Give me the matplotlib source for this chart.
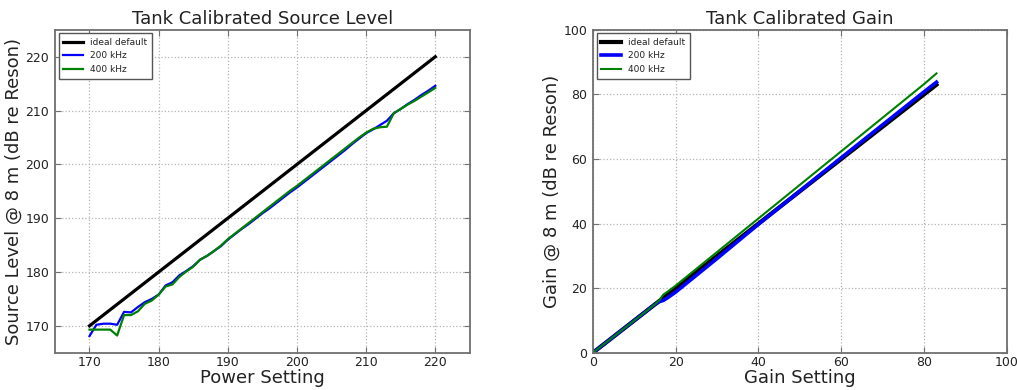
import matplotlib
matplotlib.use("Agg")
import matplotlib.pyplot as plt

# ---- Left: source level data ----
power_setting = list(range(170, 221))
ideal_sl = list(range(170, 221))
sl_200k = [168.1, 170.2, 170.4, 170.4, 170.2, 172.6, 172.5, 173.5, 174.4, 175.0,
           175.8, 177.5, 178.1, 179.4, 180.2, 181.1, 182.3, 183.0, 183.9, 184.8,
           186.0, 187.0, 188.0, 188.9, 189.9, 190.9, 191.8, 192.8, 193.8, 194.8,
           195.7, 196.7, 197.7, 198.7, 199.7, 200.7, 201.7, 202.7, 203.8, 204.8,
           205.8, 206.5, 207.3, 208.1, 209.5, 210.3, 211.2, 212.0, 212.9, 213.7,
           214.6]
sl_400k = [169.3, 169.3, 169.3, 169.3, 168.2, 172.0, 172.0, 172.7, 174.1, 174.7,
           175.8, 177.3, 177.7, 179.1, 180.1, 181.0, 182.3, 183.0, 183.9, 184.9,
           186.1, 187.1, 188.1, 189.1, 190.1, 191.1, 192.1, 193.1, 194.1, 195.1,
           196.0, 197.0, 198.0, 199.0, 200.0, 201.0, 202.0, 203.0, 204.0, 205.0,
           205.9, 206.6, 206.9, 207.0, 209.5, 210.3, 211.1, 211.8, 212.6, 213.4,
           214.2]

# ---- Right: gain data ----
gain_setting = [0, 5, 10, 15, 16, 17, 18, 20, 25, 30, 35, 40, 50, 60, 70, 80, 83]
ideal_gain = [0, 5, 10, 15, 16, 17, 18, 20, 25, 30, 35, 40, 50, 60, 70, 80, 83]
gain_200k = [0, 5, 10, 15, 15.8, 16.2, 17.0, 18.8, 24.0, 29.2, 34.5, 39.8, 50.1, 60.4, 70.6, 80.8, 83.8]
gain_400k = [0, 5, 10, 15, 16.2, 18.0, 18.9, 20.8, 26.0, 31.2, 36.4, 41.6, 52.0, 62.4, 72.8, 83.2, 86.5]

labels = ["ideal default", "200 kHz", "400 kHz"]

plt.rcParams['font.family'] = ['DejaVu Sans']
fig = plt.figure(figsize=(10.17, 3.90), dpi=100)
ax1 = fig.add_axes([0.054, 0.0955, 0.408, 0.828])
ax2 = fig.add_axes([0.583, 0.0955, 0.407, 0.828])

spine_col = '#707070'
text_col = '#222222'

def style(ax):
    for s in ax.spines.values():
        s.set_color(spine_col)
        s.set_linewidth(1.3)
    ax.tick_params(direction='in', top=True, right=True, length=4,
                   color=spine_col, labelsize=9, labelcolor=text_col, pad=2)
    ax.tick_params(axis='y', pad=4)
    ax.grid(True, linestyle=':', color='#b5b5b5', linewidth=0.9)
    ax.set_axisbelow(True)

ax1.plot(power_setting, ideal_sl, color='k', lw=2.3, label=labels[0])
ax1.plot(power_setting, sl_200k, color='b', lw=1.6, label=labels[1])
ax1.plot(power_setting, sl_400k, color='g', lw=1.6, label=labels[2])
ax1.set_xlim(165, 225)
ax1.set_ylim(165, 225)
ax1.set_xticks([170, 180, 190, 200, 210, 220])
ax1.set_yticks([170, 180, 190, 200, 210, 220])
ax1.set_title("Tank Calibrated Source Level", fontsize=13, color=text_col, pad=4)
ax1.set_xlabel("Power Setting", fontsize=13, color=text_col, labelpad=0)
ax1.set_ylabel("Source Level @ 8 m (dB re Reson)", fontsize=13, color=text_col, labelpad=2)
style(ax1)

ax2.plot(gain_setting, ideal_gain, color='k', lw=3, label=labels[0])
ax2.plot(gain_setting, gain_200k, color='b', lw=2.6, label=labels[1])
ax2.plot(gain_setting, gain_400k, color='g', lw=1.5, label=labels[2])
ax2.set_xlim(0, 100)
ax2.set_ylim(0, 100)
ax2.set_xticks([0, 20, 40, 60, 80, 100])
ax2.set_yticks([0, 20, 40, 60, 80, 100])
ax2.set_title("Tank Calibrated Gain", fontsize=13, color=text_col, pad=4)
ax2.set_xlabel("Gain Setting", fontsize=13, color=text_col, labelpad=0)
ax2.set_ylabel("Gain @ 8 m (dB re Reson)", fontsize=13, color=text_col, labelpad=2)
style(ax2)

for ax in (ax1, ax2):
    leg = ax.legend(loc='upper left', fontsize=6.5, fancybox=False, framealpha=1,
                    edgecolor='#555555', handlelength=2.2, borderpad=0.5,
                    labelspacing=0.5, borderaxespad=0.4)
    leg.get_frame().set_linewidth(1.0)
    for t in leg.get_texts():
        t.set_color(text_col)

fig.savefig("out.png", dpi=100)
